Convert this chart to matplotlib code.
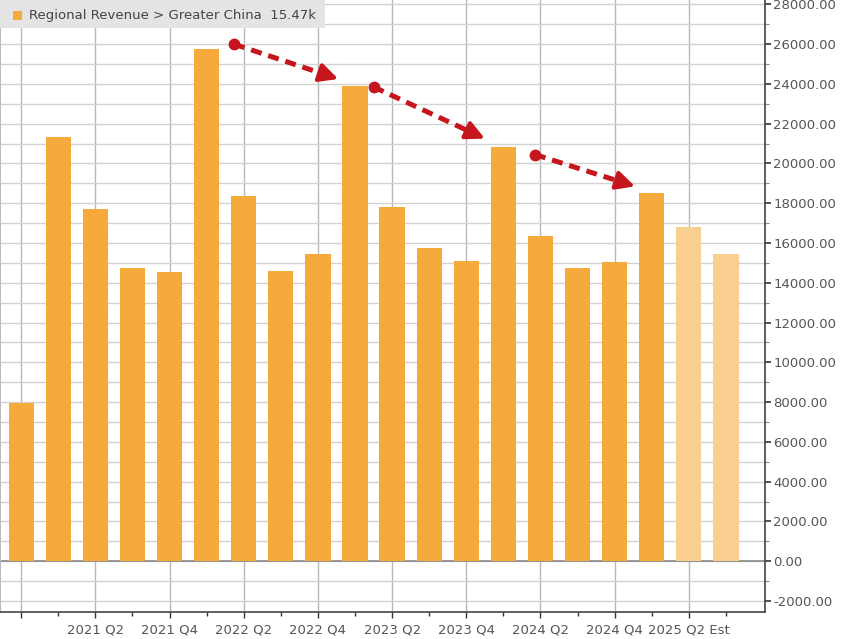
import matplotlib
matplotlib.use("Agg")
import matplotlib.pyplot as plt
from matplotlib.patches import Rectangle
from matplotlib.ticker import MultipleLocator, FixedLocator

# ---- data ----
quarters = ["2020 Q4", "2021 Q1", "2021 Q2", "2021 Q3", "2021 Q4", "2022 Q1", "2022 Q2",
            "2022 Q3", "2022 Q4", "2023 Q1", "2023 Q2", "2023 Q3", "2023 Q4", "2024 Q1",
            "2024 Q2", "2024 Q3", "2024 Q4", "2025 Q1", "2025 Q2 Est", "2025 Q3 Est"]
revenue = [7950, 21310, 17730, 14760, 14560, 25780, 18340, 14600, 15470, 23900,
           17810, 15760, 15080, 20820, 16370, 14730, 15030, 18510, 16800, 15470]
is_estimate = [False] * 18 + [True, True]
tick_labels = ["", "2021 Q2", "2021 Q4", "2022 Q2", "2022 Q4", "2023 Q2",
               "2023 Q4", "2024 Q2", "2024 Q4", "2025 Q2 Est"]
# trend arrows: (x_start, y_start, x_end, y_end) in quarter index / revenue units
arrows = [(5.74, 26000, 8.55, 24250),
          (9.5, 23850, 12.5, 21250),
          (13.85, 20450, 16.55, 18850)]
legend_text = "Regional Revenue > Greater China  15.47k"

orange = "#F6AA3C"
orange_est = "#F9CF90"
red = "#C4161C"
txt = "#555555"

fig = plt.figure(figsize=(8.48, 6.39), dpi=100)
ax = fig.add_axes([0.0, 0.042, 0.902, 0.958])

x = list(range(len(revenue)))
colors = [orange_est if e else orange for e in is_estimate]
ax.bar(x, revenue, width=0.68, color=colors, zorder=3)

ax.set_xlim(-0.57, 20.05)
ax.set_ylim(-2560, 28220)

# y axis on right
ax.yaxis.tick_right()
ax.yaxis.set_major_locator(MultipleLocator(2000))
ax.yaxis.set_minor_locator(MultipleLocator(1000))
ax.yaxis.set_major_formatter(matplotlib.ticker.FuncFormatter(lambda v, p: f"{v:.2f}"))
ax.tick_params(axis="y", which="major", length=4, width=1.2, color="#333333",
               labelsize=9.5, labelcolor=txt, pad=2, direction="out")
ax.tick_params(axis="y", which="minor", length=3, width=0.8, color="#888888")
ax.tick_params(axis="y", left=False, which="both")

# x axis
major_pos = list(range(0, 20, 2))
ax.xaxis.set_major_locator(FixedLocator(major_pos))
ax.set_xticklabels(tick_labels)
ax.xaxis.set_minor_locator(FixedLocator(list(range(1, 20, 2))))
ax.tick_params(axis="x", which="major", length=4, width=1, color="#333333",
               labelsize=9.5, labelcolor=txt, pad=4)
ax.tick_params(axis="x", which="minor", length=3, width=1, color="#333333")

# gridlines
ax.grid(axis="y", which="both", color="#d2d2d2", lw=1.0, zorder=0)
ax.grid(axis="x", which="major", color="#b8b8b8", lw=1.0, zorder=0)
ax.set_axisbelow(True)
ax.axhline(0, color="#888888", lw=1.2, zorder=2)

ax.spines["top"].set_visible(False)
ax.spines["right"].set_color("#444444")
ax.spines["right"].set_linewidth(1.2)
ax.spines["bottom"].set_color("#444444")
ax.spines["bottom"].set_linewidth(1.2)
ax.spines["left"].set_color("#bbbbbb")

# trend arrows
for (x0, y0, x1, y1) in arrows:
    xb = x1 - 0.14 * (x1 - x0)
    yb = y1 - 0.14 * (y1 - y0)
    ax.plot([x0, xb], [y0, yb], color=red, lw=3.6, dashes=(2.2, 1.4),
            solid_capstyle="butt", zorder=5)
    ax.plot([x0], [y0], marker="o", ms=7.5, color=red, zorder=6)
    ax.annotate("", xy=(x1, y1), xytext=(xb, yb),
                arrowprops=dict(arrowstyle="-|>,head_length=1.1,head_width=0.55",
                                color=red, lw=3, shrinkA=0, shrinkB=0),
                zorder=6)

# legend box
fig.patches.append(Rectangle((0, 1 - 28 / 639), 325 / 848, 28 / 639,
                             transform=fig.transFigure, facecolor="#e4e4e4",
                             edgecolor="none", zorder=10))
fig.patches.append(Rectangle((13 / 848, 1 - 20 / 639), 9 / 848, 9 / 639,
                             transform=fig.transFigure, facecolor=orange,
                             edgecolor="none", zorder=11))
fig.text(29 / 848, 1 - 15 / 639, legend_text, fontsize=9.5, color="#444444",
         va="center", ha="left", zorder=12)

fig.savefig("out.png", dpi=100, facecolor="white")
